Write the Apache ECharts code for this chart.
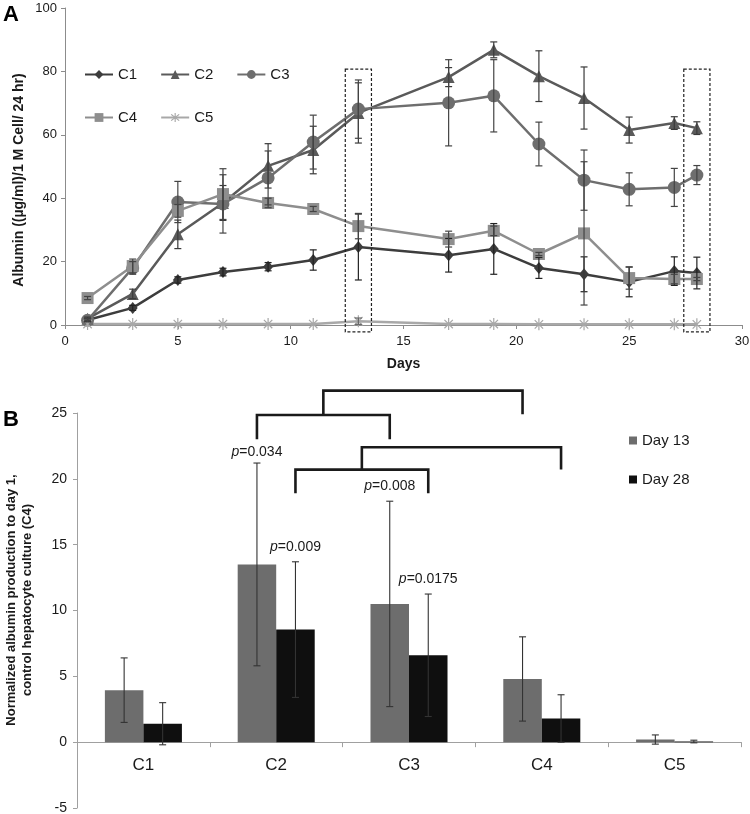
<!DOCTYPE html>
<html><head><meta charset="utf-8">
<script src="https://cdn.jsdelivr.net/npm/echarts@6/dist/echarts.min.js"></script>
<style>html,body{margin:0;padding:0;background:#fff}#c{width:750px;height:814px}</style>
</head><body><div id="c"></div>
<script>
// ---------- Panel A data ----------
const days = [1, 3, 5, 7, 9, 11, 13, 17, 19, 21, 23, 25, 27, 28];
const c1 = [1.6, 5.4, 14.2, 16.7, 18.4, 20.5, 24.6, 22.0, 24.0, 18.0, 16.0, 13.6, 17.0, 16.4];
const c1Err = [0.5, 0.8, 1.0, 1.2, 1.3, 3.2, 10.4, 5.3, 8.0, 3.3, 5.5, 4.7, 4.5, 5.0];
const c2 = [2.0, 9.8, 28.6, 38.5, 50.2, 55.2, 66.9, 78.2, 86.8, 78.5, 71.6, 61.5, 63.7, 62.1];
const c2Err = [0.5, 1.5, 4.5, 5.5, 7.0, 7.5, 9.5, 3.0, 2.5, 8.0, 9.8, 4.1, 2.0, 2.0];
const c3 = [1.5, 18.0, 38.8, 38.2, 46.4, 57.7, 68.1, 70.1, 72.3, 57.1, 45.7, 42.8, 43.4, 47.3];
const c3Err = [0.5, 2.0, 6.5, 9.2, 8.5, 8.5, 9.2, 13.6, 11.4, 6.9, 9.5, 5.2, 6.0, 3.0];
const c4 = [8.5, 18.6, 36.0, 41.3, 38.5, 36.6, 31.2, 27.1, 29.7, 22.4, 28.9, 14.8, 14.5, 14.5];
const c4Err = [0.5, 2.2, 2.0, 8.0, 1.5, 0.8, 4.0, 2.5, 1.5, 0.5, 22.6, 3.5, 1.5, 0.5];
const c5 = [0.3, 0.3, 0.3, 0.3, 0.3, 0.3, 1.2, 0.3, 0.3, 0.2, 0.2, 0.2, 0.2, 0.2];
const c5Err = [0, 0, 0, 0, 0, 0, 1.0, 0, 0, 0, 0, 0, 0, 0];
const highlightDays = [13, 28];
const boxSpan = { half: 0.58, top: 80.7, bottom: -2.2 };

// ---------- Panel B data ----------
const groups = ['C1', 'C2', 'C3', 'C4', 'C5'];
const day13 = [3.95, 13.5, 10.5, 4.8, 0.2];
const day13Err = [2.45, 7.7, 7.8, 3.2, 0.35];
const day28 = [1.4, 8.55, 6.6, 1.8, 0.05];
const day28Err = [1.6, 5.15, 4.65, 1.8, 0.1];
// brackets: [category, side(0=Day 13, 1=Day 28)], values on the y scale
const brackets = [
  { from: [1, 0], to: [2, 0], legLow: 23.0, bar: 24.85, top: 26.7, target: [3, 0], targetLow: 24.9 },
  { from: [1, 1], to: [2, 1], legLow: 18.9, bar: 20.7, top: 22.4, target: [3, 1], targetLow: 20.7 }
];
const pLabels = [
  { cat: 1, side: 0, y: 22.05, p: '0.034' },
  { cat: 1, side: 1, y: 14.85, p: '0.009' },
  { cat: 2, side: 0, y: 19.47, p: '0.008' },
  { cat: 2, side: 1, y: 12.35, p: '0.0175' }
];

const FONT = "'Liberation Sans', Arial, sans-serif";
const TXT = '#1a1a1a';
const BAR_OFF = 0.145;

const asterisk = 'path://M-1,-10L1,-10L1,10L-1,10Z M-7.71,-6.29L-6.29,-7.71L7.71,6.29L6.29,7.71Z M6.29,-7.71L7.71,-6.29L-6.29,7.71L-7.71,6.29Z';

const lineDefs = [
  { name: 'C1', v: c1, e: c1Err, color: '#3d3d3d', symbol: 'diamond', size: [10, 12], err: '#222222' },
  { name: 'C2', v: c2, e: c2Err, color: '#5a5a5a', symbol: 'triangle', size: 12, err: '#3a3a3a' },
  { name: 'C3', v: c3, e: c3Err, color: '#6e6e6e', symbol: 'circle', size: 13, err: '#444444' },
  { name: 'C4', v: c4, e: c4Err, color: '#8e8e8e', symbol: 'rect', size: 12, err: '#444444' },
  { name: 'C5', v: c5, e: c5Err, color: '#a8a8a8', symbol: asterisk, size: 12, err: '#666666' }
];

function errRender(color) {
  return function (params, api) {
    const x = api.value(0), y = api.value(1), e = api.value(2);
    if (!(e > 0)) return null;
    const hi = api.coord([x, y + e]), lo = api.coord([x, y - e]);
    const cap = 3.5, st = { stroke: color, lineWidth: 1.2 };
    return { type: 'group', children: [
      { type: 'line', shape: { x1: hi[0], y1: hi[1], x2: lo[0], y2: lo[1] }, style: st },
      { type: 'line', shape: { x1: hi[0] - cap, y1: hi[1], x2: hi[0] + cap, y2: hi[1] }, style: st },
      { type: 'line', shape: { x1: lo[0] - cap, y1: lo[1], x2: lo[0] + cap, y2: lo[1] }, style: st }
    ]};
  };
}

function barErrRender(side) {
  return function (params, api) {
    const i = api.value(0), y = api.value(1), e = api.value(2);
    const cw = api.size([1, 0])[0];
    const x = api.coord([i, 0])[0] + (side === 0 ? -1 : 1) * cw * BAR_OFF;
    const yh = api.coord([i, y + e])[1], yl = api.coord([i, y - e])[1];
    const cap = 3.5, st = { stroke: '#333333', lineWidth: 1.1 };
    return { type: 'group', children: [
      { type: 'line', shape: { x1: x, y1: yh, x2: x, y2: yl }, style: st },
      { type: 'line', shape: { x1: x - cap, y1: yh, x2: x + cap, y2: yh }, style: st },
      { type: 'line', shape: { x1: x - cap, y1: yl, x2: x + cap, y2: yl }, style: st }
    ]};
  };
}

const series = [];
lineDefs.forEach(d => {
  series.push({
    name: d.name, type: 'line', xAxisIndex: 0, yAxisIndex: 0,
    data: days.map((x, i) => [x, d.v[i]]),
    symbol: d.symbol, symbolSize: d.size, symbolKeepAspect: true,
    lineStyle: { color: d.color, width: 2.5 },
    itemStyle: { color: d.color },
    z: 2
  });
});
lineDefs.forEach(d => {
  series.push({
    name: d.name + ' err', type: 'custom', xAxisIndex: 0, yAxisIndex: 0, silent: true, clip: false,
    data: days.map((x, i) => [x, d.v[i], d.e[i]]),
    encode: { x: 0, y: 1 }, renderItem: errRender(d.err), z: 3
  });
});
series.push({
  name: 'boxes', type: 'custom', xAxisIndex: 0, yAxisIndex: 0, silent: true, clip: false,
  data: highlightDays.map(d => [d, boxSpan.top]),
  encode: { x: 0, y: 1 },
  renderItem: function (params, api) {
    const d = api.value(0);
    const p1 = api.coord([d - boxSpan.half, boxSpan.top]);
    const p2 = api.coord([d + boxSpan.half, boxSpan.bottom]);
    return { type: 'rect', shape: { x: p1[0], y: p1[1], width: p2[0] - p1[0], height: p2[1] - p1[1] },
      style: { fill: 'none', stroke: '#222', lineWidth: 1.2, lineDash: [3, 2] } };
  }, z: 4
});
series.push({
  name: 'Day 13', type: 'bar', xAxisIndex: 1, yAxisIndex: 1, data: day13,
  itemStyle: { color: '#6d6d6d' }, barGap: '0%', barCategoryGap: '42%'
});
series.push({
  name: 'Day 28', type: 'bar', xAxisIndex: 1, yAxisIndex: 1, data: day28,
  itemStyle: { color: '#0f0f0f' }, barGap: '0%', barCategoryGap: '42%'
});
series.push({
  name: 'd13 err', type: 'custom', xAxisIndex: 1, yAxisIndex: 1, silent: true, clip: false,
  data: groups.map((g, i) => [i, day13[i], day13Err[i]]), encode: { x: 0, y: 1 },
  renderItem: barErrRender(0), z: 5
});
series.push({
  name: 'd28 err', type: 'custom', xAxisIndex: 1, yAxisIndex: 1, silent: true, clip: false,
  data: groups.map((g, i) => [i, day28[i], day28Err[i]]), encode: { x: 0, y: 1 },
  renderItem: barErrRender(1), z: 5
});
series.push({
  name: 'catLabels', type: 'custom', xAxisIndex: 1, yAxisIndex: 1, silent: true, clip: false,
  data: groups.map((g, i) => [i, 0]), encode: { x: 0, y: 1 },
  renderItem: function (params, api) {
    const c = api.coord([api.value(0), 0]);
    return { type: 'text', x: c[0], y: c[1] + 23, style: {
      text: groups[params.dataIndex], fontSize: 17, fontFamily: FONT, fill: TXT,
      align: 'center', verticalAlign: 'middle' } };
  }, z: 5
});
series.push({
  name: 'brackets', type: 'custom', xAxisIndex: 1, yAxisIndex: 1, silent: true, clip: false,
  data: brackets.map(b => [b.from[0], b.bar]), encode: { x: 0, y: 1 },
  renderItem: function (params, api) {
    const b = brackets[params.dataIndex];
    const cw = api.size([1, 0])[0];
    const px = (c, s) => api.coord([c, 0])[0] + (s === 0 ? -1 : 1) * cw * BAR_OFF;
    const py = v => api.coord([0, v])[1];
    const xa = px(b.from[0], b.from[1]), xb = px(b.to[0], b.to[1]);
    const xm = (xa + xb) / 2, xc = px(b.target[0], b.target[1]);
    const st = { stroke: '#1a1a1a', lineWidth: 2.6, fill: 'none', lineJoin: 'miter' };
    return { type: 'group', children: [
      { type: 'polyline', shape: { points: [[xa, py(b.legLow)], [xa, py(b.bar)], [xb, py(b.bar)], [xb, py(b.legLow)]] }, style: st },
      { type: 'polyline', shape: { points: [[xm, py(b.bar)], [xm, py(b.top)], [xc, py(b.top)], [xc, py(b.targetLow)]] }, style: st }
    ]};
  }, z: 6
});
series.push({
  name: 'pvals', type: 'custom', xAxisIndex: 1, yAxisIndex: 1, silent: true, clip: false,
  data: pLabels.map(p => [p.cat, p.y]), encode: { x: 0, y: 1 },
  renderItem: function (params, api) {
    const p = pLabels[params.dataIndex];
    const cw = api.size([1, 0])[0];
    const c = api.coord([p.cat, p.y]);
    const x = c[0] + (p.side === 0 ? -1 : 1) * cw * BAR_OFF;
    return { type: 'text', x: x, y: c[1], style: {
      text: '{i|p}=' + p.p, fontSize: 14, fontFamily: FONT, fill: TXT,
      align: 'center', verticalAlign: 'middle',
      rich: { i: { fontStyle: 'italic', fontSize: 14, fontFamily: FONT, fill: TXT } }
    }};
  }, z: 7
});

const axisLine = { show: true, lineStyle: { color: '#8c8c8c', width: 1 } };
const option = {
  animation: false,
  backgroundColor: '#fff',
  textStyle: { fontFamily: FONT },
  grid: [
    { left: 65, right: 8, top: 8, height: 317, containLabel: false, outerBoundsMode: 'none' },
    { left: 77, right: 9, top: 413, height: 395, containLabel: false, outerBoundsMode: 'none' }
  ],
  xAxis: [
    { type: 'value', gridIndex: 0, min: 0, max: 30, interval: 5,
      name: 'Days', nameLocation: 'middle', nameGap: 32,
      nameTextStyle: { fontWeight: 'bold', fontSize: 14, color: TXT, fontFamily: FONT },
      axisLine: axisLine, axisTick: { show: true, length: 4, lineStyle: { color: '#8c8c8c' } },
      axisLabel: { fontSize: 13, color: TXT, margin: 10, fontFamily: FONT }, splitLine: { show: false } },
    { type: 'category', gridIndex: 1, data: groups,
      axisLine: { show: true, onZero: true, lineStyle: { color: '#a0a0a0', width: 1 } },
      axisTick: { show: true, length: 5, lineStyle: { color: '#a0a0a0' } },
      axisLabel: { show: false }, splitLine: { show: false } }
  ],
  yAxis: [
    { type: 'value', gridIndex: 0, min: 0, max: 100, interval: 20,
      axisLine: axisLine, axisTick: { show: true, length: 4, lineStyle: { color: '#8c8c8c' } },
      axisLabel: { fontSize: 13, color: TXT, margin: 8, fontFamily: FONT }, splitLine: { show: false } },
    { type: 'value', gridIndex: 1, min: -5, max: 25, interval: 5,
      axisLine: { show: true, lineStyle: { color: '#a0a0a0', width: 1 } },
      axisTick: { show: true, length: 4, lineStyle: { color: '#a0a0a0' } },
      axisLabel: { fontSize: 14, color: TXT, margin: 10, fontFamily: FONT }, splitLine: { show: false } }
  ],
  legend: [
    { data: ['C1', 'C2', 'C3'], left: 84, top: 67, padding: 0, itemWidth: 28, itemHeight: 11, itemGap: 23,
      textStyle: { fontSize: 15, color: TXT, fontFamily: FONT }, selectedMode: false },
    { data: ['C4', 'C5'], left: 84, top: 110, padding: 0, itemWidth: 28, itemHeight: 11, itemGap: 23,
      textStyle: { fontSize: 15, color: TXT, fontFamily: FONT }, selectedMode: false },
    { data: ['Day 13', 'Day 28'], orient: 'vertical', left: 629, top: 433, padding: 0, icon: 'rect',
      itemWidth: 8, itemHeight: 8, itemGap: 24,
      textStyle: { fontSize: 15, color: TXT, fontFamily: FONT }, selectedMode: false }
  ],
  graphic: [
    { type: 'text', left: 3, top: 4, style: { text: 'A', font: 'bold 22px ' + FONT, fill: '#000' } },
    { type: 'text', left: 3, top: 409, style: { text: 'B', font: 'bold 22px ' + FONT, fill: '#000' } },
    { type: 'text', x: 19, y: 180, rotation: Math.PI / 2,
      style: { text: 'Albumin ((µg/ml)/1 M Cell/ 24 hr)', font: 'bold 14px ' + FONT, fill: TXT,
        align: 'center', verticalAlign: 'middle' } },
    { type: 'text', x: 19, y: 600, rotation: Math.PI / 2,
      style: { text: 'Normalized albumin production to day 1,\ncontrol hepatocyte culture (C4)',
        font: 'bold 13px ' + FONT, fill: TXT, align: 'center', verticalAlign: 'middle', lineHeight: 16 } }
  ],
  series: series
};
const chart = echarts.init(document.getElementById('c'), null, { renderer: 'canvas' });
chart.setOption(option);
</script>
</body></html>
